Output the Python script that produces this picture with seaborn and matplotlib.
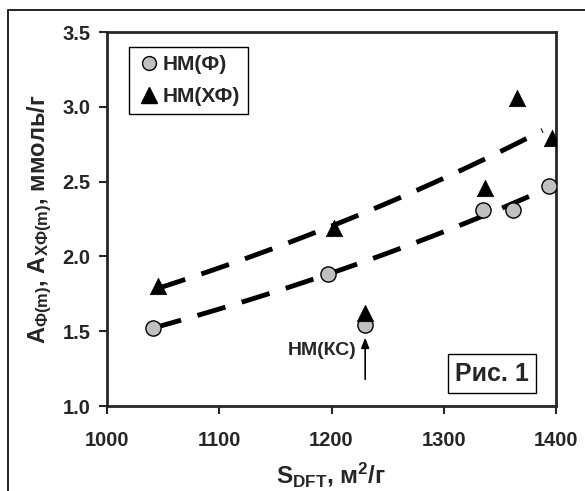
import numpy as np
import pandas as pd
import seaborn as sns
import matplotlib.pyplot as plt
from matplotlib.lines import Line2D
from matplotlib.patches import Rectangle

# data
s_f = [1041, 1197, 1335, 1362, 1394]
a_f = [1.52, 1.88, 2.31, 2.31, 2.47]
s_xf = [1045, 1202, 1337, 1365, 1396]
a_xf = [1.80, 2.19, 2.46, 3.06, 2.79]
# НМ(КС) sample, marked separately
s_ks = [1230]
a_ks_f = [1.54]
a_ks_xf = [1.62]

x_ticks = [1000, 1100, 1200, 1300, 1400]
y_ticks = [1.0, 1.5, 2.0, 2.5, 3.0, 3.5]

sns.set_style("ticks")
plt.rcParams['font.family'] = ['Liberation Sans', 'DejaVu Sans']
plt.rcParams['font.weight'] = 'bold'
plt.rcParams['mathtext.default'] = 'regular'

GREY = "#c0c0c0"


def exp_trend(x, y):
    """ Excel-like exponential trend line through the points """
    b, ln_a = np.polyfit(x, np.log(y), 1)
    xs = np.linspace(min(x), max(x) - 8, 50)
    return pd.DataFrame({"x": xs, "y": np.exp(ln_a) * np.exp(b * xs)})


fig = plt.figure(figsize=(5.85, 4.91), dpi=100)
ax = fig.add_axes([107 / 585, 1 - 406 / 491, 449 / 585, 374 / 491])

# outer frame of the picture
fig.patches.append(Rectangle((8 / 585, -0.1), 1.2, 1 - 10 / 491 + 0.1,
                             transform=fig.transFigure, fill=False,
                             ec="black", lw=1.2))

tf = exp_trend(s_f, a_f)
txf = exp_trend(s_xf, a_xf)
for t in (txf, tf):
    sns.lineplot(data=t, x="x", y="y", ax=ax, color="black", lw=3.5,
                 dashes=False, linestyle=(0, (6, 3.5)), zorder=2)

sns.scatterplot(x=s_f + s_ks, y=a_f + a_ks_f, ax=ax, marker="o", s=120,
                color=GREY, edgecolor="black", linewidth=1, zorder=3)
sns.scatterplot(x=s_xf + s_ks, y=a_xf + a_ks_xf, ax=ax, marker="^", s=140,
                color="black", edgecolor="black", linewidth=0.5, zorder=4)

ax.set_xlim(1000, 1400)
ax.set_ylim(1.0, 3.5)
ax.set_xticks(x_ticks)
ax.set_yticks(y_ticks)
ax.set_xticklabels([str(v) for v in x_ticks])
ax.set_yticklabels([f"{v:.1f}" for v in y_ticks])
ax.tick_params(axis="both", labelsize=14.5, width=1.5, length=6, direction="out")
ax.tick_params(axis="x", pad=12)
ax.tick_params(axis="y", pad=6)
for sp in ax.spines.values():
    sp.set_linewidth(2)
    sp.set_visible(True)

ax.set_xlabel(r"S$_{DFT}$, м$^2$/г", fontsize=17.5, fontweight="bold", labelpad=7)
ax.set_ylabel(r"A$_{Ф(m)}$, A$_{ХФ(m)}$, ммоль/г", fontsize=17,
              fontweight="bold", labelpad=6)

handles = [Line2D([0], [0], marker="o", ls="none", ms=10, mfc=GREY, mec="black"),
           Line2D([0], [0], marker="^", ls="none", ms=11, mfc="black", mec="black")]
leg = ax.legend(handles, ["НМ(Ф)", "НМ(ХФ)"], loc="upper left",
                bbox_to_anchor=(0.049, 0.96), fancybox=False, framealpha=1,
                edgecolor="black", handletextpad=0.1,
                handlelength=1.1, borderpad=0.4, labelspacing=0.6,
                borderaxespad=0, prop={"weight": "bold", "size": 15})
leg.get_frame().set_linewidth(1)

ax.annotate("", xy=(1230, 1.475), xytext=(1230, 1.16),
            arrowprops=dict(arrowstyle="-|>,head_width=0.2,head_length=0.5",
                            color="black", lw=1.2, mutation_scale=12))
ax.text(1222, 1.37, "НМ(КС)", ha="right", va="center", fontsize=14,
        fontweight="bold")
ax.text(1343, 1.215, "Рис. 1", ha="center", va="center", fontsize=18,
        fontweight="bold",
        bbox=dict(boxstyle="square,pad=0.3", fc="white", ec="black", lw=1))

fig.savefig("out.png", dpi=100)
